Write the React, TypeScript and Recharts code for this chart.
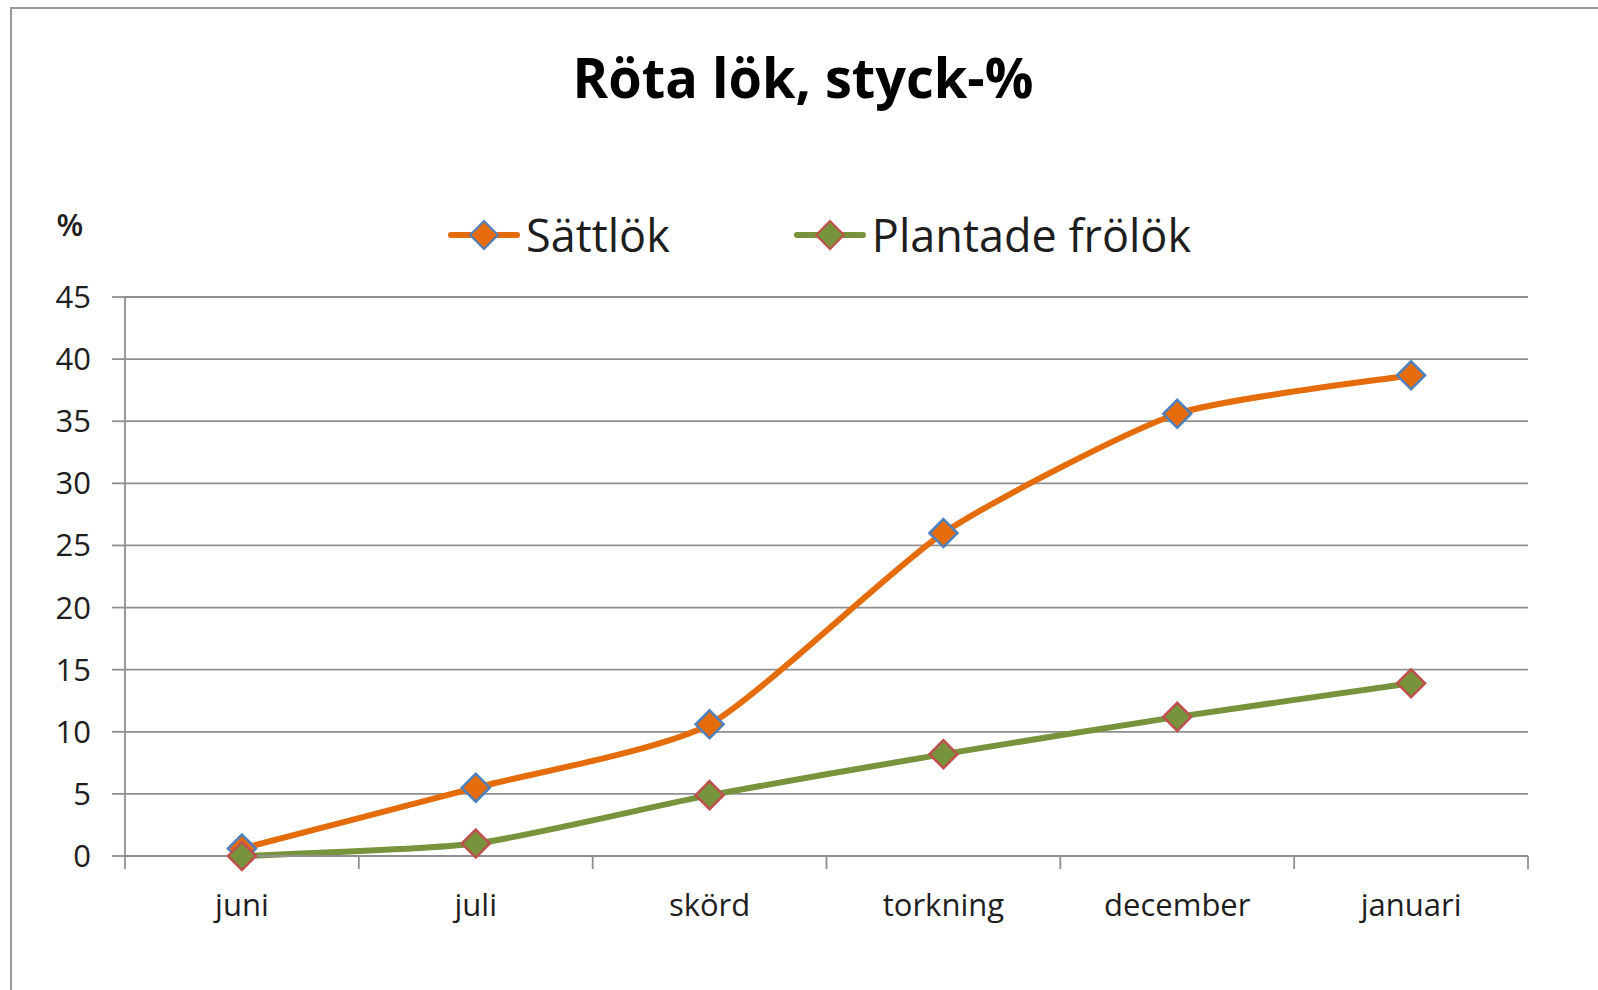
import React from 'react';
import { LineChart, Line, XAxis, YAxis, CartesianGrid } from 'recharts';

const categories = ['juni', 'juli', 'skörd', 'torkning', 'december', 'januari'];
const sattlokValues = [0.6, 5.5, 10.6, 26.0, 35.6, 38.7];
const plantadeValues = [0, 1.0, 4.9, 8.2, 11.2, 13.9];
const yTicks = [0, 5, 10, 15, 20, 25, 30, 35, 40, 45];
const seriesNames = ['Sättlök', 'Plantade frölök'];
const titleText = 'Röta lök, styck-%';
const unitText = '%';

const data = categories.map((c, i) => ({ name: c, s: sattlokValues[i], p: plantadeValues[i] }));

const FONT = "'Open Sans', 'DejaVu Sans', sans-serif";
const GRID = '#8f8f8f';
const TEXT = '#1e1e1e';

const series = [
  { key: 's', name: seriesNames[0], line: '#E46C0A', fill: '#E46C0A', stroke: '#4F81BD' },
  { key: 'p', name: seriesNames[1], line: '#77933C', fill: '#77933C', stroke: '#C0504D' },
];

// Excel-like smoothing (Catmull-Rom style cubic Bezier, slightly relaxed)
const SMOOTH = 0.1;
const excelSmooth = (context: any) => {
  let pts: number[][] = [];
  return {
    areaStart() {},
    areaEnd() {},
    lineStart() {
      pts = [];
    },
    point(x: number, y: number) {
      pts.push([+x, +y]);
    },
    lineEnd() {
      if (!pts.length) return;
      context.moveTo(pts[0][0], pts[0][1]);
      for (let i = 0; i < pts.length - 1; i++) {
        const p0 = pts[i - 1] || pts[i];
        const p1 = pts[i];
        const p2 = pts[i + 1];
        const p3 = pts[i + 2] || pts[i + 1];
        context.bezierCurveTo(
          p1[0] + (p2[0] - p0[0]) * SMOOTH,
          p1[1] + (p2[1] - p0[1]) * SMOOTH,
          p2[0] - (p3[0] - p1[0]) * SMOOTH,
          p2[1] - (p3[1] - p1[1]) * SMOOTH,
          p2[0],
          p2[1]
        );
      }
    },
  };
};

const makeDiamond = (fill: string, stroke: string) => (props: any) => {
  const { cx, cy, index } = props;
  if (cx == null || cy == null) return <g key={index} />;
  const r = 14;
  return (
    <path
      key={index}
      d={`M${cx},${cy - r}L${cx + r},${cy}L${cx},${cy + r}L${cx - r},${cy}Z`}
      fill={fill}
      stroke={stroke}
      strokeWidth={2.5}
    />
  );
};

// Category tick: label centred on the band, tick marks on band boundaries (Excel style)
const CategoryTick = (props: any) => {
  const { x, y, payload, visibleTicksCount } = props;
  const half = payload && payload.offset ? payload.offset : 0;
  const axisY = y - 38;
  const isLast = payload.index === visibleTicksCount - 1;
  return (
    <g>
      <line x1={x - half} y1={axisY} x2={x - half} y2={axisY + 13} stroke={GRID} strokeWidth={1.8} />
      {isLast && <line x1={x + half} y1={axisY} x2={x + half} y2={axisY + 13} stroke={GRID} strokeWidth={1.8} />}
      <text x={x} y={y} dy="0.71em" textAnchor="middle" fill={TEXT} fontSize={31} fontFamily={FONT}>
        {payload.value}
      </text>
    </g>
  );
};

function LegendOverlay() {
  return (
    <div
      style={{
        position: 'absolute',
        left: 448,
        top: 212,
        display: 'flex',
        alignItems: 'center',
        fontFamily: FONT,
        fontSize: 45,
        color: TEXT,
        lineHeight: 1,
      }}
    >
      {series.map((s, i) => (
        <div key={s.key} style={{ display: 'flex', alignItems: 'center', marginLeft: i === 0 ? 0 : 124 }}>
          <svg width={72} height={34} style={{ display: 'block' }}>
            <line x1={3} y1={17} x2={69} y2={17} stroke={s.line} strokeWidth={6} strokeLinecap="round" />
            <path d="M36,3L50,17L36,31L22,17Z" fill={s.fill} stroke={s.stroke} strokeWidth={2} />
          </svg>
          <span style={{ marginLeft: 6, whiteSpace: 'nowrap' }}>{s.name}</span>
        </div>
      ))}
    </div>
  );
}

export default function App() {
  return (
    <div
      style={{
        position: 'fixed',
        left: 0,
        top: 0,
        width: 1598,
        height: 990,
        overflow: 'hidden',
        background: '#fff',
      }}
    >
      <div
        style={{
          position: 'absolute',
          left: 10,
          top: 7,
          width: 1600,
          height: 1000,
          border: '2px solid #9a9a9a',
          boxSizing: 'border-box',
        }}
      />
      <div style={{ position: 'absolute', left: 0, top: 0 }}>
        <LineChart width={1598} height={990} data={data} margin={{ top: 297, right: 70, left: 0, bottom: 74 }}>
          <CartesianGrid vertical={false} stroke={GRID} strokeWidth={1.8} />
          <XAxis
            dataKey="name"
            type="category"
            scale="band"
            axisLine={{ stroke: GRID, strokeWidth: 1.8 }}
            tickLine={false}
            tickSize={0}
            tickMargin={38}
            height={60}
            interval={0}
            tick={<CategoryTick />}
          />
          <YAxis
            width={125}
            domain={[0, 45]}
            ticks={yTicks}
            interval={0}
            tickSize={13}
            tickMargin={21}
            stroke={GRID}
            strokeWidth={1.8}
            tick={{ fill: TEXT, fontSize: 31, fontFamily: FONT }}
          />
          {series.map((s) => (
            <Line
              key={s.key}
              type={excelSmooth as any}
              dataKey={s.key}
              name={s.name}
              stroke={s.line}
              strokeWidth={6}
              dot={makeDiamond(s.fill, s.stroke)}
              activeDot={false}
              isAnimationActive={false}
            />
          ))}
        </LineChart>
      </div>
      <svg width={1598} height={260} style={{ position: 'absolute', left: 0, top: 0, pointerEvents: 'none' }}>
        <text
          x={803}
          y={98}
          textAnchor="middle"
          fontFamily={FONT}
          fontWeight={700}
          fontSize={55}
          fill="#000"
          textLength={461}
          lengthAdjust="spacingAndGlyphs"
        >
          {titleText}
        </text>
        <text x={70} y={236} textAnchor="middle" fontFamily={FONT} fontWeight={600} fontSize={31} fill={TEXT}>
          {unitText}
        </text>
      </svg>
      <LegendOverlay />
    </div>
  );
}
